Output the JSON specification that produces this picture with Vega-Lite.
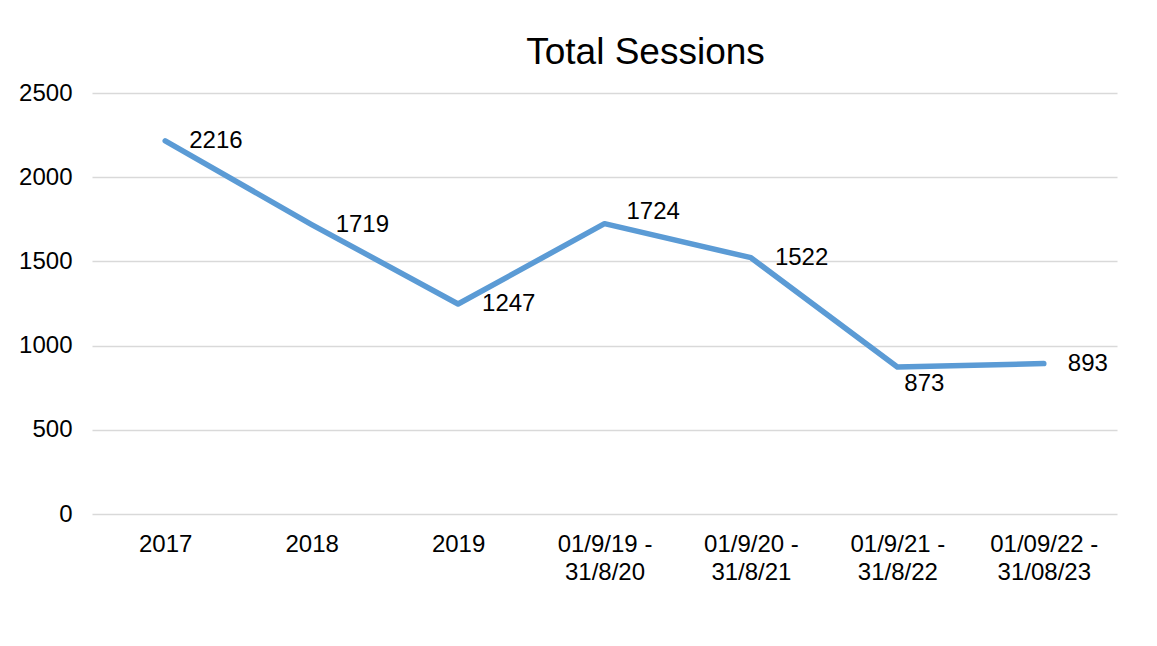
{
  "$schema": "https://vega.github.io/schema/vega-lite/v6.json",
  "autosize": {"type": "none"},
  "width": 1025,
  "height": 421,
  "padding": {"left": 92, "top": 93, "right": 40, "bottom": 132},
  "background": "white",
  "config": {
    "font": "Liberation Sans",
    "view": {"stroke": null},
    "axis": {"labelFont": "Liberation Sans", "labelColor": "#000000", "labelFontSize": 24}
  },
  "title": {
    "text": "Total Sessions",
    "font": "Liberation Sans",
    "fontSize": 37,
    "fontWeight": "normal",
    "color": "#000000",
    "anchor": "middle",
    "dx": 41,
    "offset": -20,
    "baseline": "alphabetic"
  },
  "data": {
    "values": [
      {"period": "2017", "sessions": 2216},
      {"period": "2018", "sessions": 1719},
      {"period": "2019", "sessions": 1247},
      {"period": "01/9/19 - 31/8/20", "sessions": 1724},
      {"period": "01/9/20 - 31/8/21", "sessions": 1522},
      {"period": "01/9/21 - 31/8/22", "sessions": 873},
      {"period": "01/09/22 - 31/08/23", "sessions": 893}
    ]
  },
  "encoding": {
    "x": {
      "field": "period",
      "type": "nominal",
      "sort": null,
      "scale": {"paddingInner": 0, "paddingOuter": 0},
      "axis": {
        "title": null,
        "labelAngle": 0,
        "domain": false,
        "ticks": false,
        "grid": false,
        "labelPadding": 18,
        "labelLineHeight": 28,
        "labelExpr": "split(replace(datum.label, ' - ', ' -|'), '|')"
      }
    },
    "y": {
      "field": "sessions",
      "type": "quantitative",
      "scale": {"domain": [0, 2500], "nice": false},
      "axis": {
        "title": null,
        "values": [0, 500, 1000, 1500, 2000, 2500],
        "format": "d",
        "domain": false,
        "ticks": false,
        "labelPadding": 20,
        "gridColor": "#d9d9d9",
        "gridWidth": 1.5
      }
    }
  },
  "layer": [
    {
      "mark": {"type": "line", "color": "#5B9BD5", "strokeWidth": 5.5, "strokeCap": "round", "strokeJoin": "round"}
    },
    {
      "transform": [{"filter": "datum.period != '01/9/19 - 31/8/20' && datum.period != '01/9/21 - 31/8/22'"}],
      "mark": {"type": "text", "align": "left", "baseline": "middle", "dx": 24, "fontSize": 24, "color": "#000000", "font": "Liberation Sans"},
      "encoding": {"text": {"field": "sessions", "type": "quantitative"}}
    },
    {
      "transform": [{"filter": "datum.period == '01/9/19 - 31/8/20'"}],
      "mark": {"type": "text", "align": "left", "baseline": "middle", "dx": 22, "dy": -12, "fontSize": 24, "color": "#000000", "font": "Liberation Sans"},
      "encoding": {"text": {"field": "sessions", "type": "quantitative"}}
    },
    {
      "transform": [{"filter": "datum.period == '01/9/21 - 31/8/22'"}],
      "mark": {"type": "text", "align": "left", "baseline": "middle", "dx": 7, "dy": 17, "fontSize": 24, "color": "#000000", "font": "Liberation Sans"},
      "encoding": {"text": {"field": "sessions", "type": "quantitative"}}
    }
  ]
}
